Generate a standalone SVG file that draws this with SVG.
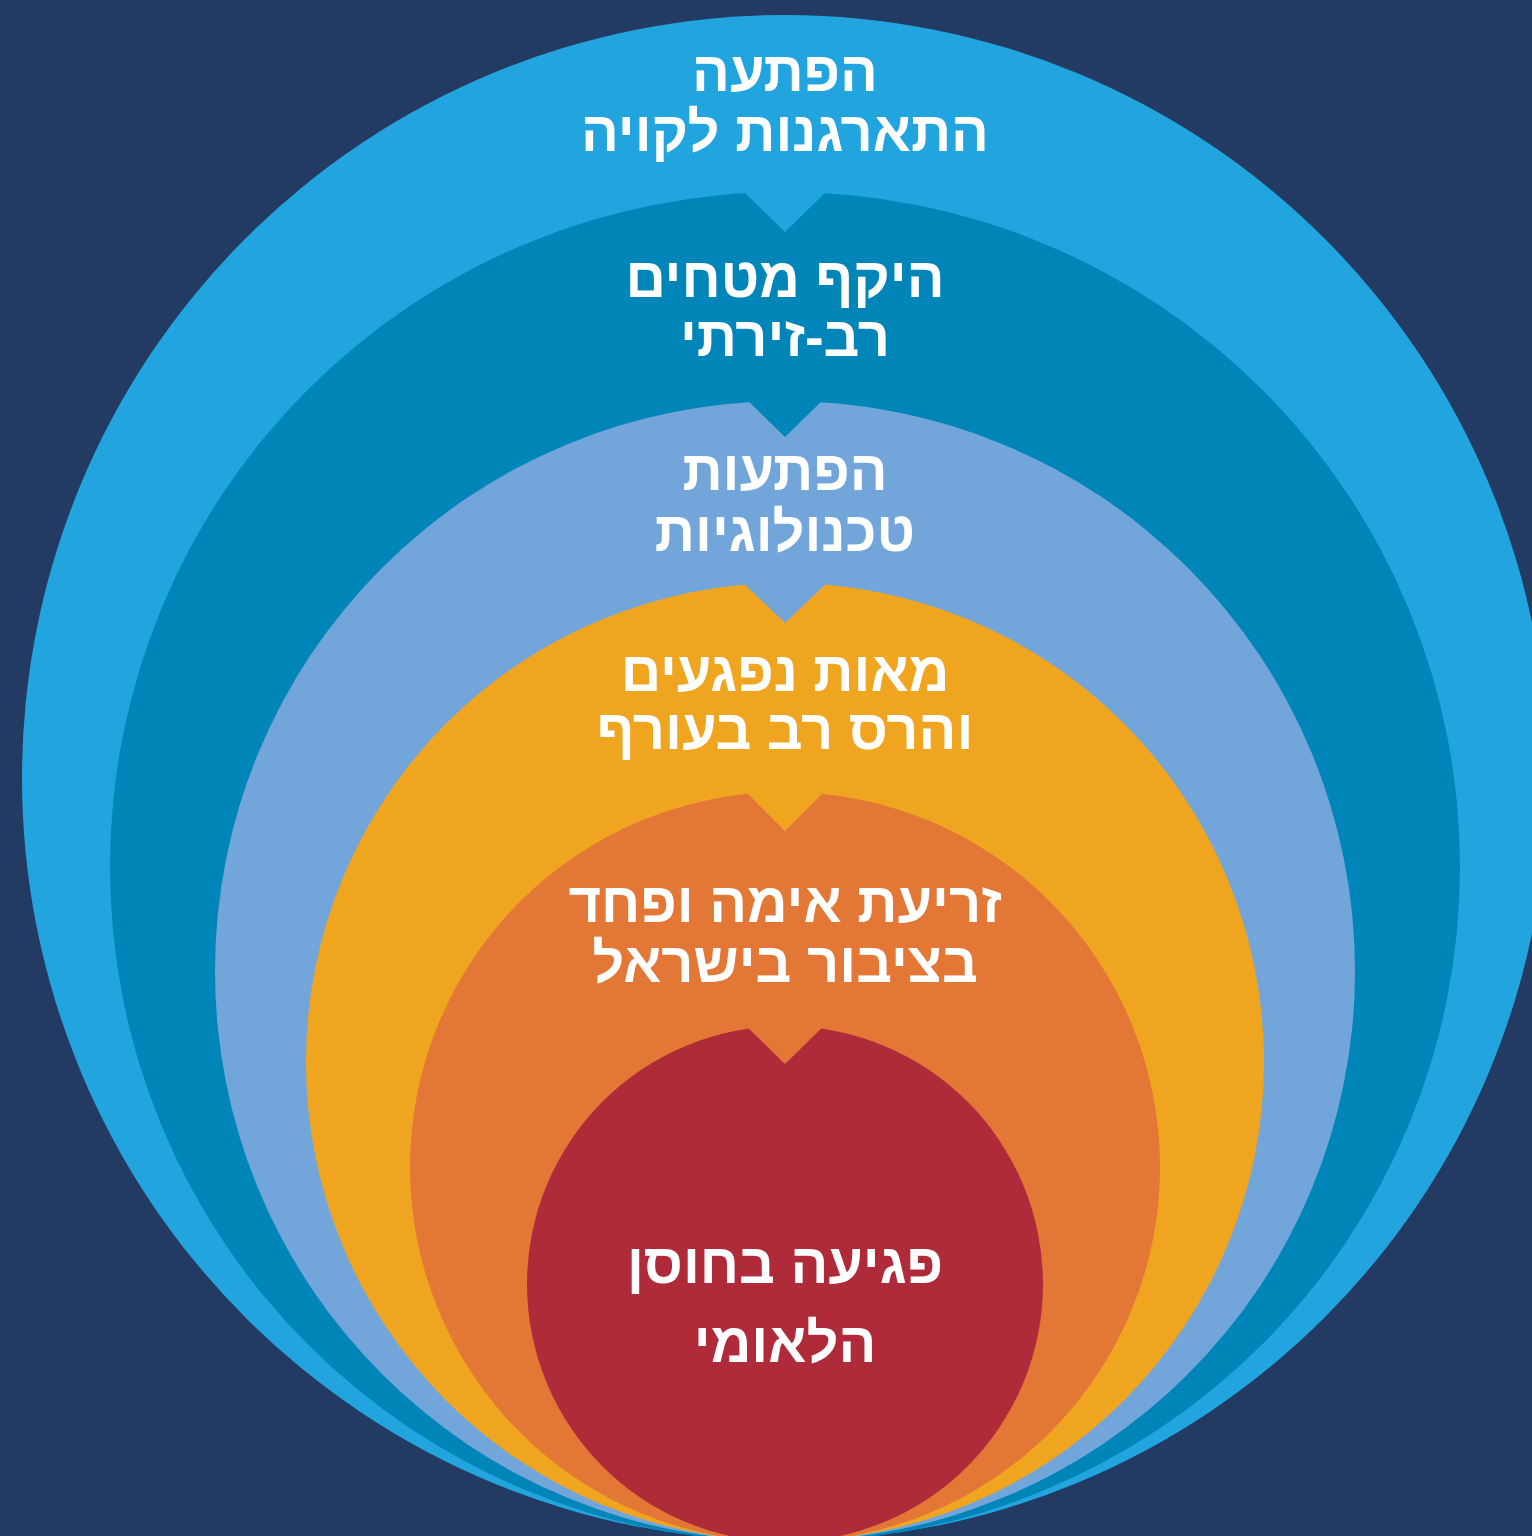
<svg xmlns="http://www.w3.org/2000/svg" width="1532" height="1536" viewBox="0 0 1532 1536">
  <style>
    .lbl { font-family: "Liberation Sans", "DejaVu Sans", sans-serif; font-weight: bold; font-size: 56px; fill: #FFFFFF; text-anchor: middle; direction: rtl; }
  </style>
  <rect x="0" y="0" width="1532" height="1536" fill="#233B63"/>
  <g id="node-1">
    <circle cx="785" cy="778" r="763" fill="#22A5DF"/>
    <text class="lbl" x="785" y="91">הפתעה</text>
    <text class="lbl" x="785" y="151">התארגנות לקויה</text>
  </g>
  <g id="node-2">
    <circle cx="785" cy="867" r="675" fill="#0085B8"/>
    <text class="lbl" x="785" y="297">היקף מטחים</text>
    <text class="lbl" x="785" y="356">רב-זירתי</text>
  </g>
  <g id="node-3">
    <circle cx="785" cy="971" r="570" fill="#72A6DB"/>
    <text class="lbl" x="785" y="490">הפתעות</text>
    <text class="lbl" x="785" y="551">טכנולוגיות</text>
  </g>
  <g id="node-4">
    <circle cx="785" cy="1062" r="479" fill="#F0A520"/>
    <text class="lbl" x="785" y="691">מאות נפגעים</text>
    <text class="lbl" x="785" y="749">והרס רב בעורף</text>
  </g>
  <g id="node-5">
    <circle cx="785" cy="1167" r="375" fill="#E37736"/>
    <text class="lbl" x="785" y="922">זריעת אימה ופחד</text>
    <text class="lbl" x="785" y="982">בציבור בישראל</text>
  </g>
  <g id="node-6">
    <circle cx="785" cy="1284" r="258" fill="#AF2B3A"/>
    <text class="lbl" x="785" y="1283">פגיעה בחוסן</text>
    <text class="lbl" x="785" y="1362">הלאומי</text>
  </g>
  <g id="connectors">
    <polygon points="739,187 785,232 831,187" fill="#22A5DF"/>
    <polygon points="742,395 785,437 828,395" fill="#0085B8"/>
    <polygon points="738,578 785,623 832,578" fill="#72A6DB"/>
    <polygon points="740,786 785,831 830,786" fill="#F0A520"/>
    <polygon points="741,1021 785,1064 829,1021" fill="#E37736"/>
  </g>
</svg>
